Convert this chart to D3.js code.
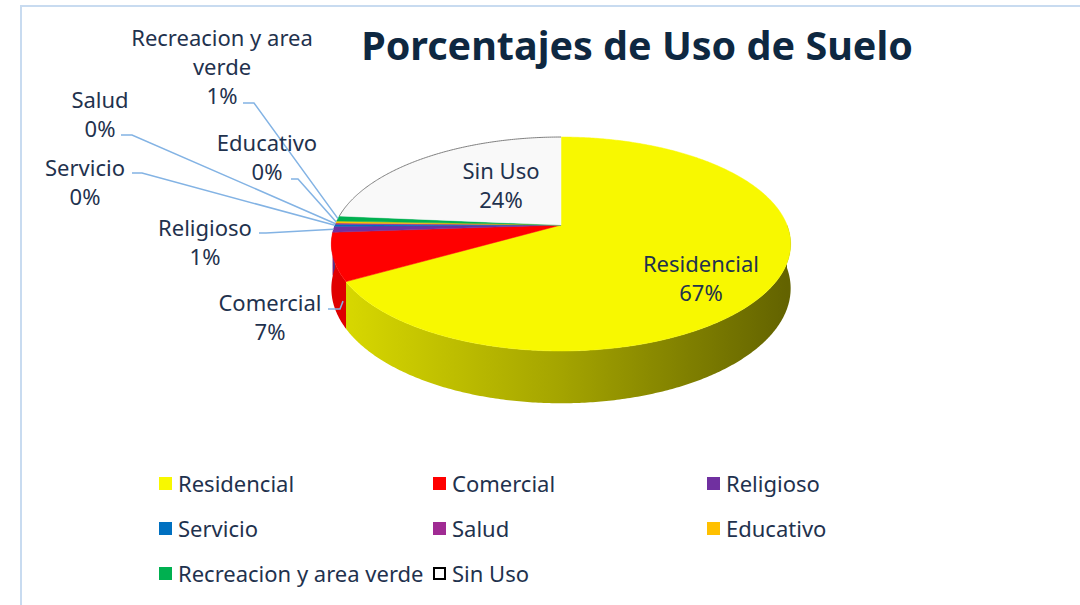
<!DOCTYPE html>
<html>
<head>
<meta charset="utf-8">
<script src="https://cdn.jsdelivr.net/npm/d3@7"></script>
<style>
  body { margin: 0; background: #fff; }
  svg { display: block; }
  text { font-family: "Noto Sans", "Open Sans", sans-serif; }
</style>
</head>
<body>
<svg id="chart" width="1080" height="605"></svg>
<script>
// ---- data ----
const categories = ["Residencial", "Comercial", "Religioso", "Servicio", "Salud", "Educativo", "Recreacion y area verde", "Sin Uso"];
const shares = [66.7, 7.2, 0.9, 0.3, 0.2, 0.3, 0.8, 23.6];
const sliceColors = ["#F8F800", "#FF0000", "#7030A0", "#0070C0", "#A02B93", "#FFC000", "#00B050", "#F9F9F9"];
const chartTitle = "Porcentajes de Uso de Suelo";

// ---- layout ----
const W = 1080, H = 605;
const cx = 561, cy = 225;      // pie apex on the top face
const RX = 226, RY = 103.6;    // radii of the top face
const F = 5.63;                // perspective factor
const DEPTH = 43;              // thickness of the pie
const LINE_GAP = 29;
const TEXT_SIZE = 22;

// label anchors (centre of first line); leaders start at "from", bend at "elbow"
const labelSpots = [
  { x: 701, y: 264 },
  { x: 270, y: 303, from: [328, 309], elbow: [340, 309], t: 0.08, depth: 0.5 },
  { x: 205, y: 228, from: [259, 233], elbow: [266, 233] },
  { x: 85,  y: 168, from: [132, 173], elbow: [142, 173] },
  { x: 100, y: 100, from: [121, 135], elbow: [132, 135] },
  { x: 267, y: 143, from: [291, 179], elbow: [298, 179] },
  { x: 222, y: 38,  from: [243, 103], elbow: [254, 103], lines: ["Recreacion y area", "verde"] },
  { x: 501, y: 171 }
];

const svg = d3.select("#chart");
const defs = svg.append("defs");

// chart frame
svg.append("path")
  .attr("d", `M21,${H} L21,6 L${W},6`)
  .attr("fill", "none").attr("stroke", "#C8DBF0").attr("stroke-width", 2);

// title
svg.append("text")
  .attr("x", 637).attr("y", 60)
  .attr("text-anchor", "middle")
  .attr("font-size", 39.5).attr("font-weight", 700)
  .attr("fill", "#0E2841")
  .text(chartTitle);

// ---- 3D pie ----
const pie = d3.pie().sort(null).startAngle(0).endAngle(2 * Math.PI);
const arcs = pie(shares);

// perspective projection of a point on the disc (theta clockwise from the back)
function project(theta, r, depth) {
  const u = r * Math.sin(theta), z = -r * Math.cos(theta);
  const s = F / (F - z);
  return [cx + RX * u * s, cy + RY * z * s + DEPTH * depth * s];
}

function arcPoints(a0, a1, depth) {
  const n = Math.max(2, Math.ceil((a1 - a0) / 0.01));
  return d3.range(n + 1).map(i => project(a0 + (a1 - a0) * i / n, 1, depth));
}

const line = d3.line();

// side walls (front half only)
const wallG = svg.append("g");
arcs.forEach((a, i) => {
  const a0 = Math.max(a.startAngle, Math.PI / 2);
  const a1 = Math.min(a.endAngle, 3 * Math.PI / 2);
  if (a1 <= a0) return;
  const base = d3.rgb(sliceColors[i]);
  const shade = k => d3.rgb(base.r * k, base.g * k, base.b * k).formatHex();
  const gid = "wall" + i;
  const g = defs.append("linearGradient").attr("id", gid)
    .attr("gradientUnits", "userSpaceOnUse")
    .attr("x1", cx - RX).attr("x2", cx + RX).attr("y1", 0).attr("y2", 0);
  g.append("stop").attr("offset", 0).attr("stop-color", shade(0.88));
  g.append("stop").attr("offset", 0.5).attr("stop-color", shade(0.66));
  g.append("stop").attr("offset", 1).attr("stop-color", shade(0.40));
  const pts = arcPoints(a0, a1, 0).concat(arcPoints(a0, a1, 1).reverse());
  wallG.append("path")
    .attr("d", line(pts) + "Z")
    .attr("fill", `url(#${gid})`);
});

// top faces
const topG = svg.append("g");
arcs.forEach((a, i) => {
  const pts = [[cx, cy]].concat(arcPoints(a.startAngle, a.endAngle, 0));
  topG.append("path")
    .attr("d", line(pts) + "Z")
    .attr("fill", sliceColors[i])
    .attr("stroke", sliceColors[i]).attr("stroke-width", 0.5);
  if (categories[i] === "Sin Uso") {
    topG.append("path")
      .attr("d", line(arcPoints(a.startAngle, a.endAngle, 0)))
      .attr("fill", "none").attr("stroke", "#808080").attr("stroke-width", 1);
  }
});

// leader lines
const leaderG = svg.append("g");
arcs.forEach((a, i) => {
  const spot = labelSpots[i];
  if (!spot.from) return;
  const t = spot.t === undefined ? 0.5 : spot.t;
  const end = project(a.startAngle + (a.endAngle - a.startAngle) * t, 1, spot.depth || 0);
  leaderG.append("path")
    .attr("d", line([spot.from, spot.elbow, end]))
    .attr("fill", "none").attr("stroke", "#83B3E4").attr("stroke-width", 1.5);
});

// data labels
const fmt = v => Math.round(v / d3.sum(shares) * 100) + "%";
const labelG = svg.append("g");
arcs.forEach((a, i) => {
  const spot = labelSpots[i];
  const lines = (spot.lines || [categories[i]]).concat([fmt(a.data)]);
  lines.forEach((txt, k) => {
    labelG.append("text")
      .attr("x", spot.x).attr("y", spot.y + k * LINE_GAP)
      .attr("dy", "0.35em")
      .attr("text-anchor", "middle")
      .attr("font-size", TEXT_SIZE)
      .attr("fill", "#1F324E")
      .text(txt);
  });
});

// legend
const colX = d3.scalePoint().domain([0, 1, 2]).range([159, 707]);
const rowY = d3.scalePoint().domain([0, 1, 2]).range([477, 567]);
const legend = svg.append("g");
categories.forEach((name, i) => {
  const x = colX(i % 3), y = rowY(Math.floor(i / 3));
  const isBlank = name === "Sin Uso";
  legend.append("rect")
    .attr("x", isBlank ? x + 1 : x).attr("y", isBlank ? y + 1 : y)
    .attr("width", isBlank ? 11 : 13).attr("height", isBlank ? 11 : 13)
    .attr("fill", isBlank ? "#fff" : sliceColors[i])
    .attr("stroke", isBlank ? "#000" : "none").attr("stroke-width", 2);
  legend.append("text")
    .attr("x", x + 19).attr("y", y + 7)
    .attr("dy", "0.35em")
    .attr("font-size", TEXT_SIZE)
    .attr("fill", "#1F324E")
    .text(name);
});
</script>
</body>
</html>
